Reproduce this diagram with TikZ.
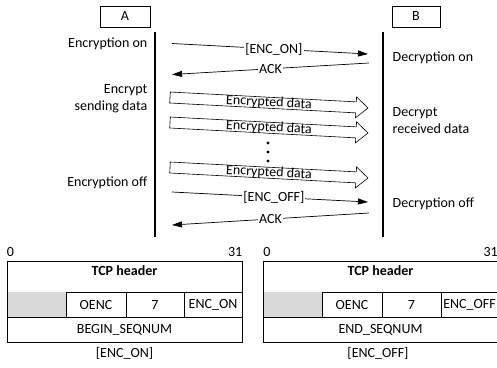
\documentclass[tikz,border=0pt]{standalone}
\usepackage{fontspec}
\setmainfont{Carlito}
\usetikzlibrary{calc,arrows.meta}
\tikzset{
  lbl/.style={font=\fontsize{14}{17}\selectfont, inner sep=1pt},
  msg/.style={line width=0.7pt, -{Triangle[length=10pt,width=6pt]}},
  msglbl/.style={lbl, fill=white, inner sep=1pt},
  life/.style={line width=2.6pt},
  actor/.style={draw, line width=0.8pt, minimum width=50pt, minimum height=21pt, lbl},
  blk/.style={line width=0.6pt, draw, fill=white},
  cell/.style={line width=0.9pt},
  shade/.style={fill=black!15},
}
\newcommand\blockarr[3]{%
  \coordinate (#3hb) at ($(#2)!12pt!(#1)$);
  \draw[blk] ($(#1)!5.5pt!90:(#2)$) -- ($(#3hb)!5.5pt!90:(#2)$)
     -- ($(#3hb)!10.5pt!90:(#2)$) -- (#2) -- ($(#3hb)!10.5pt!-90:(#2)$)
     -- ($(#3hb)!5.5pt!-90:(#2)$) -- ($(#1)!5.5pt!-90:(#2)$) -- cycle;
  \path (#1) -- (#2) node[midway, sloped, lbl, name=#3t] {Encrypted data};
}
\begin{document}
\begin{tikzpicture}[x=1pt,y=-1pt]
\useasboundingbox (0,0) rectangle (497,367);
\clip (0,0) rectangle (497,367);

% actors
\node[actor] (A) at (125,16.5) {A};
\node[actor, minimum width=48pt] (B) at (416,16.5) {B};
\coordinate (la0) at (155,32); \coordinate (la1) at (155,237);
\coordinate (lb0) at (383,32); \coordinate (lb1) at (383,237);
\draw[life] (la0) -- (la1);
\draw[life] (lb0) -- (lb1);

% side labels
\node[lbl, anchor=east] (l1) at (148.5,43.5) {Encryption on};
\node[lbl, anchor=east, align=right] (l2) at (148.5,98.5) {Encrypt\\sending data};
\node[lbl, anchor=east] (l3) at (148.5,182.5) {Encryption off};
\node[lbl, anchor=west] (r1) at (391.5,57.5) {Decryption on};
\node[lbl, anchor=west, align=left] (r2) at (391.5,120.5) {Decrypt\\received data};
\node[lbl, anchor=west] (r3) at (391.5,203.5) {Decryption off};

% thin messages
\coordinate (m1s) at (172,43.5); \coordinate (m1t) at (368,54);
\coordinate (m2s) at (369,63);   \coordinate (m2t) at (172,74.5);
\coordinate (m3s) at (172,192);  \coordinate (m3t) at (368,202);
\coordinate (m4s) at (369,213);  \coordinate (m4t) at (172,225);
\draw[msg] (m1s) -- node[msglbl, pos=0.52] (m1l) {[ENC\_ON]} (m1t);
\draw[msg] (m2s) -- node[msglbl, pos=0.5] (m2l) {ACK} (m2t);
\draw[msg] (m3s) -- node[msglbl, pos=0.52] (m3l) {[ENC\_OFF]} (m3t);
\draw[msg] (m4s) -- node[msglbl, pos=0.5] (m4l) {ACK} (m4t);

% block arrows
\coordinate (b1s) at (170,97.5);  \coordinate (b1t) at (368,108);
\coordinate (b2s) at (170,122.5); \coordinate (b2t) at (368,133);
\coordinate (b3s) at (170,167.5); \coordinate (b3t) at (368,178);
\blockarr{b1s}{b1t}{b1}
\blockarr{b2s}{b2t}{b2}
\blockarr{b3s}{b3t}{b3}

% vertical dots
\fill (268,143) circle (1.6pt) (268,152) circle (1.6pt) (268,161) circle (1.6pt);

% left table
\fill[shade] (7,292) rectangle (66.5,317);
\draw[cell] (7,261) rectangle (242,342);
\draw[cell] (66.5,292) -- (242,292);
\draw[cell] (7,317) -- (242,317);
\draw[cell] (66.5,292) -- (66.5,317) (126,292) -- (126,317) (184,292) -- (184,317);
\node[lbl] (t1z) at (10.5,252) {0};
\node[lbl, anchor=east, inner sep=0pt] (t1e) at (242.5,252) {31};
\node[lbl, font=\fontsize{14}{17}\selectfont\bfseries] (t1h) at (124.5,271) {TCP header};
\node[lbl] (t1a) at (96,305) {OENC};
\node[lbl] (t1b) at (155,305) {7};
\node[lbl] (t1c) at (213,305) {ENC\_ON};
\node[lbl] (t1s) at (124.5,329.5) {BEGIN\_SEQNUM};
\node[lbl] (t1n) at (124.5,353) {[ENC\_ON]};

% right table
\fill[shade] (263,292) rectangle (322,317);
\draw[cell] (263,261) rectangle (498.5,342);
\draw[cell] (322,292) -- (498.5,292);
\draw[cell] (263,317) -- (498.5,317);
\draw[cell] (322,292) -- (322,317) (382,292) -- (382,317) (441,292) -- (441,317);
\node[lbl] (t2z) at (267,252) {0};
\node[lbl, anchor=east, inner sep=0pt] (t2e) at (498,252) {31};
\node[lbl, font=\fontsize{14}{17}\selectfont\bfseries] (t2h) at (380.5,271) {TCP header};
\node[lbl] (t2a) at (352,305) {OENC};
\node[lbl] (t2b) at (411.5,305) {7};
\node[lbl] (t2c) at (469.5,305) {ENC\_OFF};
\node[lbl] (t2s) at (380.5,329.5) {END\_SEQNUM};
\node[lbl] (t2n) at (378,353) {[ENC\_OFF]};
\end{tikzpicture}
\end{document}
